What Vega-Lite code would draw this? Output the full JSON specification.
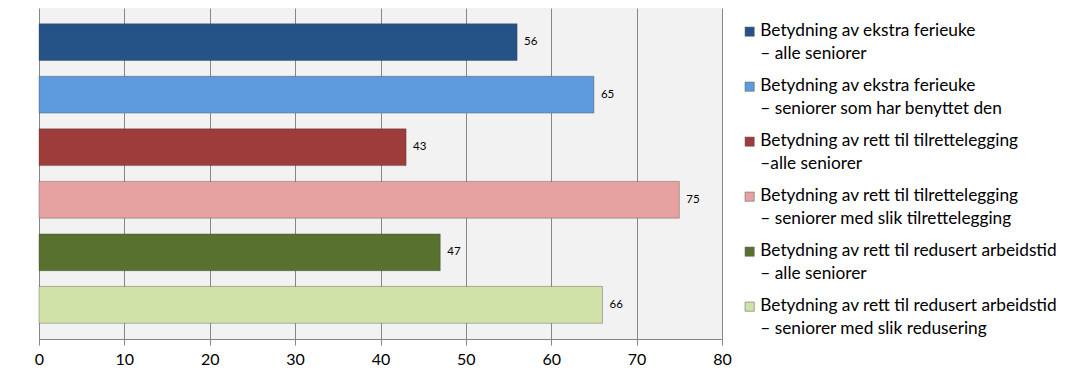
{
  "$schema": "https://vega.github.io/schema/vega-lite/v6.json",
  "width": 683,
  "height": 331,
  "autosize": {"type": "none"},
  "padding": {"left": 39, "top": 8, "right": 343, "bottom": 38},
  "background": "white",
  "view": {"fill": "#f2f2f2", "stroke": null},
  "data": {
    "values": [
      {"kategori": "Betydning av ekstra ferieuke|– alle seniorer", "verdi": 56},
      {"kategori": "Betydning av ekstra ferieuke|– seniorer som har benyttet den", "verdi": 65},
      {"kategori": "Betydning av rett til tilrettelegging|–alle seniorer", "verdi": 43},
      {"kategori": "Betydning av rett til tilrettelegging|– seniorer med slik tilrettelegging", "verdi": 75},
      {"kategori": "Betydning av rett til redusert arbeidstid|– alle seniorer", "verdi": 47},
      {"kategori": "Betydning av rett til redusert arbeidstid|– seniorer med slik redusering", "verdi": 66}
    ]
  },
  "encoding": {
    "y": {
      "field": "kategori",
      "type": "nominal",
      "sort": null,
      "scale": {"paddingInner": 0.3, "paddingOuter": 0.3},
      "axis": null
    },
    "x": {
      "field": "verdi",
      "type": "quantitative",
      "scale": {"domain": [0, 80]},
      "axis": {
        "values": [0, 10, 20, 30, 40, 50, 60, 70, 80],
        "title": null,
        "grid": true,
        "gridColor": "#868686",
        "gridOpacity": 1,
        "domainColor": "#868686",
        "tickColor": "#868686",
        "tickSize": 6,
        "labelFlush": false,
        "labelFont": "Lato",
        "labelFontSize": 16,
        "labelColor": "#000000",
        "labelPadding": 6
      }
    }
  },
  "layer": [
    {
      "mark": {"type": "bar", "stroke": "#3a3a3a", "strokeOpacity": 0.35, "strokeWidth": 1},
      "encoding": {
        "color": {
          "field": "kategori",
          "type": "nominal",
          "sort": null,
          "scale": {
            "range": ["#265387", "#5d9ade", "#9e3b3b", "#e6a2a1", "#58712e", "#d1e2a8"]
          },
          "legend": {
            "title": null,
            "orient": "none",
            "legendX": 702,
            "legendY": 15,
            "symbolType": "square",
            "symbolSize": 85,
            "symbolStrokeColor": "#555555",
            "symbolStrokeWidth": 0.5,
            "labelExpr": "split(datum.label, '|')",
            "labelFont": "Lato",
            "labelFontSize": 17.3,
            "labelColor": "#000000",
            "labelLimit": 0,
            "labelBaseline": "top",
            "labelOffset": 2,
            "rowPadding": 14,
            "encode": {
              "labels": {
                "update": {
                  "lineHeight": {"value": 23},
                  "dy": {"value": -10}
                }
              }
            }
          }
        }
      }
    },
    {
      "mark": {"type": "text", "align": "left", "dx": 7, "font": "Lato", "fontSize": 11.5, "color": "#000000"},
      "encoding": {"text": {"field": "verdi", "type": "quantitative"}}
    }
  ]
}
